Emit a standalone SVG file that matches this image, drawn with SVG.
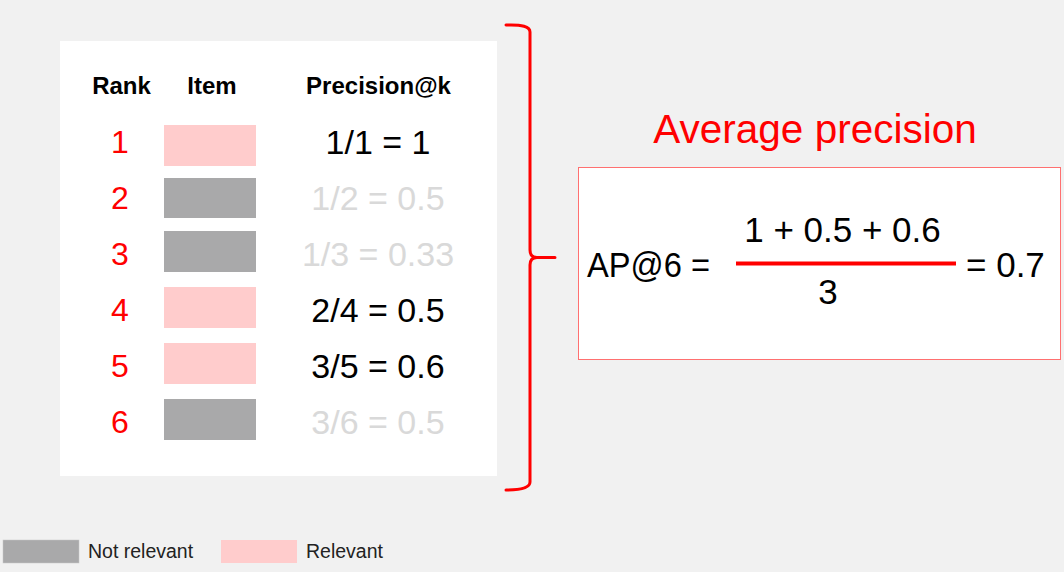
<svg xmlns="http://www.w3.org/2000/svg" width="1064" height="572" viewBox="0 0 1064 572">
<style>
text{font-family:"Liberation Sans",Arial,sans-serif}
.hdr{font-size:24px;font-weight:bold;fill:#000;text-anchor:middle}
.rk{font-size:32px;fill:#f00;text-anchor:middle}
.pk{font-size:34px;fill:#000;text-anchor:middle}
.pk.off{fill:#d9d9d9}
.rel{fill:#ffcccc}
.nrel{fill:#a9a9aa}
.leg{font-size:19.5px;fill:#222}
.eq{font-size:35px;fill:#000}
</style>
<rect width="1064" height="572" fill="#f1f1f1"/>
<g id="table">
<rect x="60" y="41" width="437" height="435" fill="#fff"/>
<text class="hdr" x="121.5" y="94">Rank</text>
<text class="hdr" x="212" y="94">Item</text>
<text class="hdr" x="378.5" y="94">Precision@k</text>
</g>
<g id="row1"><text class="rk" x="120" y="153">1</text><rect class="rel" x="164" y="125" width="92" height="41"/><text class="pk" x="378" y="154">1/1 = 1</text></g>
<g id="row2"><text class="rk" x="120" y="209">2</text><rect class="nrel" x="164" y="178" width="92" height="40"/><text class="pk off" x="378" y="210">1/2 = 0.5</text></g>
<g id="row3"><text class="rk" x="120" y="265">3</text><rect class="nrel" x="164" y="231" width="92" height="41"/><text class="pk off" x="378" y="266">1/3 = 0.33</text></g>
<g id="row4"><text class="rk" x="120" y="321">4</text><rect class="rel" x="164" y="287" width="92" height="41"/><text class="pk" x="378" y="322">2/4 = 0.5</text></g>
<g id="row5"><text class="rk" x="120" y="377">5</text><rect class="rel" x="164" y="343" width="92" height="41"/><text class="pk" x="378" y="378">3/5 = 0.6</text></g>
<g id="row6"><text class="rk" x="120" y="433">6</text><rect class="nrel" x="164" y="399" width="92" height="41"/><text class="pk off" x="378" y="434">3/6 = 0.5</text></g>
<g id="connectors">
<path d="M506 25 Q530 24 530 32 L530 250 Q530 257.5 537 257.5 L555 257.5 M537 257.5 Q530 257.5 530 265 L530 482 Q530 490 506 490" fill="none" stroke="#f00" stroke-width="3" stroke-linecap="round" stroke-linejoin="round"/>
</g>
<g id="title"><text x="815" y="143" font-size="40.5" fill="#f00" text-anchor="middle">Average precision</text></g>
<g id="formula">
<rect x="578.5" y="167.5" width="482" height="192" fill="#fff" stroke="#ff7070" stroke-width="1"/>
<text class="eq" x="587" y="277" font-size="34" textLength="123" lengthAdjust="spacingAndGlyphs">AP@6 =</text>
<text class="eq" x="842.5" y="242" text-anchor="middle">1 + 0.5 + 0.6</text>
<line x1="736" y1="263.5" x2="956" y2="263.5" stroke="#f00" stroke-width="4"/>
<text class="eq" x="828" y="304" text-anchor="middle">3</text>
<text class="eq" x="966" y="277">= 0.7</text>
</g>
<g id="legend">
<rect class="nrel" x="3" y="540" width="76" height="23" stroke="#c8c8c8" stroke-width="0.5"/>
<text class="leg" x="88" y="558">Not relevant</text>
<rect class="rel" x="221" y="540" width="76" height="23"/>
<text class="leg" x="306" y="558">Relevant</text>
</g>
</svg>
